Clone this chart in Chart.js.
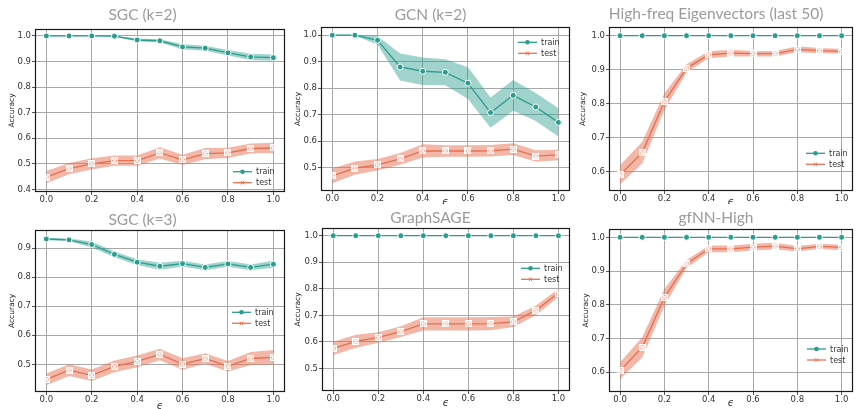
<!DOCTYPE html>
<html>
<head>
<meta charset="utf-8">
<script src="https://cdn.jsdelivr.net/npm/chart.js@4.4.1/dist/chart.umd.min.js"></script>
<style>
  html, body { margin: 0; padding: 0; background: #fff; }
  #fig { position: relative; width: 858px; height: 409px; overflow: hidden; background: #fff; }
  #fig canvas { position: absolute; }
</style>
</head>
<body>
<div id="fig"></div>
<script>
// ---- data ----
const epsValues = [0.0, 0.1, 0.2, 0.3, 0.4, 0.5, 0.6, 0.7, 0.8, 0.9, 1.0];
const xTicks = [0.0, 0.2, 0.4, 0.6, 0.8, 1.0];

// SGC (k=2)
const sgc2TrainMean = [1.0, 1.0, 1.0, 0.999, 0.984, 0.981, 0.957, 0.952, 0.934, 0.918, 0.915];
const sgc2TrainErr  = [0.001, 0.001, 0.001, 0.002, 0.006, 0.006, 0.010, 0.010, 0.011, 0.012, 0.012];
const sgc2TestMean  = [0.448, 0.481, 0.500, 0.513, 0.513, 0.543, 0.516, 0.540, 0.543, 0.560, 0.562];
const sgc2TestErr   = [0.024, 0.022, 0.022, 0.020, 0.020, 0.022, 0.020, 0.022, 0.020, 0.020, 0.020];
const sgc2YTicks = [0.4, 0.5, 0.6, 0.7, 0.8, 0.9, 1.0];

// GCN (k=2)
const gcnTrainMean = [1.0, 1.0, 0.981, 0.880, 0.864, 0.860, 0.819, 0.708, 0.773, 0.729, 0.671];
const gcnTrainErr  = [0.002, 0.002, 0.016, 0.051, 0.052, 0.049, 0.060, 0.057, 0.058, 0.053, 0.053];
const gcnTestMean  = [0.469, 0.498, 0.511, 0.533, 0.563, 0.563, 0.563, 0.564, 0.570, 0.544, 0.548];
const gcnTestErr   = [0.028, 0.025, 0.022, 0.022, 0.025, 0.022, 0.022, 0.022, 0.022, 0.022, 0.020];
const gcnYTicks = [0.5, 0.6, 0.7, 0.8, 0.9, 1.0];

// High-freq Eigenvectors (last 50)
const eigTrainMean = [1.0, 1.0, 1.0, 1.0, 1.0, 1.0, 1.0, 1.0, 1.0, 1.0, 1.0];
const eigTrainErr  = [0.001, 0.001, 0.001, 0.001, 0.001, 0.001, 0.001, 0.001, 0.001, 0.001, 0.001];
const eigTestMean  = [0.591, 0.656, 0.806, 0.904, 0.944, 0.949, 0.947, 0.947, 0.960, 0.956, 0.954];
const eigTestErr   = [0.028, 0.032, 0.025, 0.012, 0.010, 0.010, 0.008, 0.008, 0.009, 0.008, 0.007];
const eigYTicks = [0.6, 0.7, 0.8, 0.9, 1.0];

// SGC (k=3)
const sgc3TrainMean = [0.932, 0.929, 0.913, 0.879, 0.852, 0.838, 0.847, 0.834, 0.846, 0.834, 0.845];
const sgc3TrainErr  = [0.004, 0.005, 0.010, 0.010, 0.010, 0.012, 0.010, 0.010, 0.010, 0.010, 0.012];
const sgc3TestMean  = [0.448, 0.480, 0.462, 0.493, 0.510, 0.534, 0.501, 0.520, 0.493, 0.520, 0.524];
const sgc3TestErr   = [0.020, 0.020, 0.020, 0.020, 0.020, 0.020, 0.020, 0.018, 0.018, 0.022, 0.025];
const sgc3YTicks = [0.5, 0.6, 0.7, 0.8, 0.9];

// GraphSAGE
const sageTrainMean = [1.0, 1.0, 1.0, 1.0, 1.0, 1.0, 1.0, 1.0, 1.0, 1.0, 1.0];
const sageTrainErr  = [0.001, 0.001, 0.001, 0.001, 0.001, 0.001, 0.001, 0.001, 0.001, 0.001, 0.001];
const sageTestMean  = [0.576, 0.602, 0.617, 0.639, 0.668, 0.668, 0.668, 0.669, 0.676, 0.719, 0.784];
const sageTestErr   = [0.025, 0.025, 0.020, 0.020, 0.025, 0.025, 0.025, 0.025, 0.020, 0.018, 0.015];
const sageYTicks = [0.5, 0.6, 0.7, 0.8, 0.9, 1.0];

// gfNN-High
const gfnnTrainMean = [1.0, 1.0, 1.0, 1.0, 1.0, 1.0, 1.0, 1.0, 1.0, 1.0, 1.0];
const gfnnTrainErr  = [0.001, 0.001, 0.001, 0.001, 0.001, 0.001, 0.001, 0.001, 0.001, 0.001, 0.001];
const gfnnTestMean  = [0.605, 0.674, 0.822, 0.921, 0.966, 0.966, 0.971, 0.974, 0.966, 0.973, 0.970];
const gfnnTestErr   = [0.025, 0.030, 0.025, 0.012, 0.010, 0.010, 0.010, 0.010, 0.008, 0.008, 0.008];
const gfnnYTicks = [0.6, 0.7, 0.8, 0.9, 1.0];

const TEAL = '#2a9d8f';
const SALMON = '#e76f51';
const TEAL_BAND = 'rgba(42,157,143,0.45)';
const SALMON_BAND = 'rgba(231,111,81,0.5)';
const GRID = '#a8a8a8';

// ---- layout of the six panels (page pixels) ----
const panels = [
  { title: 'SGC (k=2)', trainMean: sgc2TrainMean, trainErr: sgc2TrainErr, testMean: sgc2TestMean, testErr: sgc2TestErr,
    yTicks: sgc2YTicks, yMin: 0.39, yMax: 1.027,
    box: { x: 0, y: 0, w: 290, h: 204 }, area: { l: 35, t: 29, r: 285, b: 192 },
    titleCy: 15, ylabelCx: 11.7, epsCy: 212, legend: { x: 233, y: 171.7 } },
  { title: 'GCN (k=2)', trainMean: gcnTrainMean, trainErr: gcnTrainErr, testMean: gcnTestMean, testErr: gcnTestErr,
    yTicks: gcnYTicks, yMin: 0.412, yMax: 1.031,
    box: { x: 290, y: 0, w: 285, h: 204 }, area: { l: 321, t: 27, r: 571, b: 191 },
    titleCy: 15, ylabelCx: 297.7, epsCy: 202.5, legend: { x: 518, y: 42.3 } },
  { title: 'High-freq Eigenvectors (last 50)', trainMean: eigTrainMean, trainErr: eigTrainErr, testMean: eigTestMean, testErr: eigTestErr,
    yTicks: eigYTicks, yMin: 0.543, yMax: 1.0256,
    box: { x: 575, y: 0, w: 283, h: 204 }, area: { l: 609, t: 27, r: 857, b: 191 },
    titleCy: 14, ylabelCx: 582.7, epsCy: 202.5, legend: { x: 806, y: 153.3 } },
  { title: 'SGC (k=3)', trainMean: sgc3TrainMean, trainErr: sgc3TrainErr, testMean: sgc3TestMean, testErr: sgc3TestErr,
    yTicks: sgc3YTicks, yMin: 0.4045, yMax: 0.963,
    box: { x: 0, y: 204, w: 290, h: 205 }, area: { l: 35, t: 230, r: 285, b: 392 },
    titleCy: 220, ylabelCx: 11.7, epsCy: 406, legend: { x: 232, y: 312.3 } },
  { title: 'GraphSAGE', trainMean: sageTrainMean, trainErr: sageTrainErr, testMean: sageTestMean, testErr: sageTestErr,
    yTicks: sageYTicks, yMin: 0.4155, yMax: 1.029,
    box: { x: 290, y: 204, w: 285, h: 205 }, area: { l: 322, t: 228, r: 571, b: 391 },
    titleCy: 218.3, ylabelCx: 297.7, epsCy: 403.3, legend: { x: 521, y: 268.3 } },
  { title: 'gfNN-High', trainMean: gfnnTrainMean, trainErr: gfnnTrainErr, testMean: gfnnTestMean, testErr: gfnnTestErr,
    yTicks: gfnnYTicks, yMin: 0.5416, yMax: 1.0246,
    box: { x: 575, y: 204, w: 283, h: 205 }, area: { l: 609, t: 229, r: 857, b: 392 },
    titleCy: 218, ylabelCx: 585.7, epsCy: 403.3, legend: { x: 807, y: 349 } }
];

// white square with a small x, like the seaborn 'X' marker with white edge
function makeTestMarker() {
  const c = document.createElement('canvas');
  c.width = 7; c.height = 7;
  const g = c.getContext('2d');
  g.strokeStyle = '#fff';
  g.lineWidth = 1.2;
  g.strokeRect(0.6, 0.6, 5.8, 5.8);
  g.beginPath();
  g.moveTo(1.5, 1.5); g.lineTo(5.5, 5.5);
  g.moveTo(5.5, 1.5); g.lineTo(1.5, 5.5);
  g.stroke();
  return c;
}
const testMarker = makeTestMarker();

const framePlugin = {
  id: 'frame',
  afterDatasetsDraw(chart) {
    const { ctx, chartArea: a } = chart;
    ctx.save();
    ctx.strokeStyle = '#1a1a1a';
    ctx.lineWidth = 1.2;
    ctx.strokeRect(Math.round(a.left) + 0.5, Math.round(a.top) + 0.5,
                   Math.round(a.right - a.left) - 1, Math.round(a.bottom - a.top) - 1);
    ctx.restore();
  }
};

const innerLegend = {
  id: 'innerLegend',
  afterDraw(chart, args, opts) {
    const ctx = chart.ctx;
    const items = chart.data.datasets.filter(d => d.inLegend);
    items.forEach((d, i) => {
      const y = opts.y + i * opts.dy;
      ctx.save();
      ctx.strokeStyle = d.borderColor;
      ctx.lineWidth = 1.3;
      ctx.beginPath();
      ctx.moveTo(opts.x, y);
      ctx.lineTo(opts.x + 19, y);
      ctx.stroke();
      ctx.fillStyle = d.borderColor;
      if (d.label === 'train') {
        Chart.helpers.drawPoint(ctx, { pointStyle: 'circle', radius: 2.3, borderWidth: 0, rotation: 0 }, opts.x + 9.5, y);
      } else {
        ctx.lineWidth = 1;
        Chart.helpers.drawPoint(ctx, { pointStyle: 'crossRot', radius: 2.5, borderWidth: 1, rotation: 0 }, opts.x + 9.5, y);
      }
      ctx.fillStyle = '#333';
      ctx.font = '8px "DejaVu Sans"';
      ctx.textBaseline = 'middle';
      ctx.fillText(d.label, opts.x + 23, y + 0.5);
      ctx.restore();
    });
  }
};

function band(mean, err, sign) {
  return mean.map((m, i) => ({ x: epsValues[i], y: m + sign * err[i] }));
}
function pts(mean) {
  return mean.map((m, i) => ({ x: epsValues[i], y: m }));
}

const fig = document.getElementById('fig');

panels.forEach(p => {
  const cv = document.createElement('canvas');
  cv.width = p.box.w; cv.height = p.box.h;
  cv.style.left = p.box.x + 'px'; cv.style.top = p.box.y + 'px';
  cv.style.width = p.box.w + 'px'; cv.style.height = p.box.h + 'px';
  fig.appendChild(cv);

  const L = p.area.l - p.box.x, T = p.area.t - p.box.y;
  const R = p.area.r - p.box.x, B = p.area.b - p.box.y;
  const titleSize = 15.5;
  const titlePadTop = p.titleCy - p.box.y - titleSize / 2;
  const titlePadBottom = T - titlePadTop - titleSize;
  const ylabPad = p.ylabelCx - p.box.x - 3.75;
  const epsPad = (p.box.y + p.box.h) - p.epsCy - 5;

  new Chart(cv, {
    type: 'line',
    data: {
      datasets: [
        { label: 'train', inLegend: true, data: pts(p.trainMean), borderColor: TEAL, backgroundColor: TEAL,
          borderWidth: 1.3, pointStyle: 'circle', pointRadius: 3, pointBackgroundColor: TEAL,
          pointBorderColor: '#fff', pointBorderWidth: 1, fill: false, tension: 0 },
        { label: 'test', inLegend: true, data: pts(p.testMean), borderColor: SALMON, backgroundColor: SALMON,
          borderWidth: 1.3, pointStyle: testMarker, pointRadius: 3.5, fill: false, tension: 0 },
        { label: 'train-lo', data: band(p.trainMean, p.trainErr, -1), borderWidth: 0, pointRadius: 0, fill: false, tension: 0 },
        { label: 'train-hi', data: band(p.trainMean, p.trainErr, 1), borderWidth: 0, pointRadius: 0,
          fill: '-1', backgroundColor: TEAL_BAND, tension: 0 },
        { label: 'test-lo', data: band(p.testMean, p.testErr, -1), borderWidth: 0, pointRadius: 0, fill: false, tension: 0 },
        { label: 'test-hi', data: band(p.testMean, p.testErr, 1), borderWidth: 0, pointRadius: 0,
          fill: '-1', backgroundColor: SALMON_BAND, tension: 0 }
      ]
    },
    options: {
      responsive: false,
      animation: false,
      devicePixelRatio: 1,
      layout: { padding: { left: 0, top: 0, right: p.box.w - R, bottom: 0 } },
      plugins: {
        legend: { display: false },
        tooltip: { enabled: false },
        title: {
          display: true, text: p.title, color: '#9b9b9b',
          font: { family: 'Lato', size: titleSize, weight: 'normal', lineHeight: 1 },
          padding: { top: titlePadTop, bottom: titlePadBottom }
        },
        innerLegend: { x: p.legend.x - p.box.x, y: p.legend.y - p.box.y, dy: 11 }
      },
      scales: {
        x: {
          type: 'linear', min: -0.05, max: 1.05,
          afterBuildTicks: s => { s.ticks = xTicks.map(v => ({ value: v })); },
          afterFit: s => { s.height = p.box.h - B; },
          grid: { color: GRID, lineWidth: 1, tickLength: 3, tickColor: '#555' },
          border: { display: false },
          ticks: { color: '#333', padding: 0, maxRotation: 0, font: { family: 'DejaVu Sans', size: 8.5 },
                   callback: v => v.toFixed(1) },
          title: { display: true, text: 'ϵ', color: '#333', font: { family: 'DejaVu Sans', size: 10, style: 'italic', lineHeight: 1 },
                   padding: { top: 0, bottom: epsPad } }
        },
        y: {
          type: 'linear', min: p.yMin, max: p.yMax,
          afterBuildTicks: s => { s.ticks = p.yTicks.map(v => ({ value: v })); },
          afterFit: s => { s.width = L; },
          grid: { color: GRID, lineWidth: 1, tickLength: 3, tickColor: '#555' },
          border: { display: false },
          ticks: { color: '#333', padding: 1, font: { family: 'DejaVu Sans', size: 8.5 },
                   callback: v => v.toFixed(1) },
          title: { display: true, text: 'Accuracy', color: '#222', font: { family: 'DejaVu Sans', size: 7.5, lineHeight: 1 },
                   padding: { top: ylabPad, bottom: 0 } }
        }
      }
    },
    plugins: [framePlugin, innerLegend]
  });
});
</script>
</body>
</html>
